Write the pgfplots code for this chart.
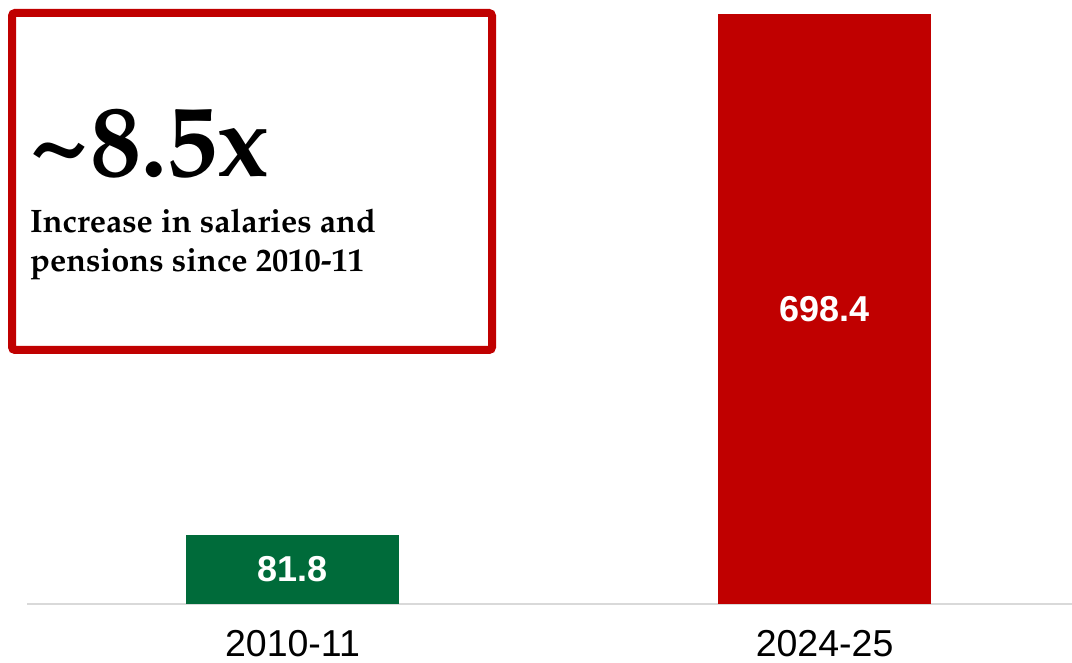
\documentclass[border=0pt]{standalone}
\usepackage[T1]{fontenc}
\usepackage{fontspec}
\setmainfont{Liberation Sans}
\usepackage{pgfplots}
\pgfplotsset{compat=1.18}
\definecolor{barred}{HTML}{C00000}
\definecolor{bargreen}{HTML}{006B3A}
\definecolor{baseline}{HTML}{D9D9D9}
\newcommand\pal{\fontencoding{T1}\fontfamily{ppl}\selectfont}
\begin{document}
\begin{tikzpicture}
\useasboundingbox (0,0) rectangle (1072bp,663bp);
\begin{axis}[
    at={(27bp,59bp)}, anchor=south west,
    width=1045bp, height=590bp, scale only axis,
    xmin=-0.499, xmax=1.465, ymin=0, ymax=698.4,
    hide y axis,
    axis x line*=bottom,
    x axis line style={draw=baseline, line width=1.6bp, -},
    xtick={0,1}, xticklabels={2010-11,2024-25},
    major tick length=0pt, xtick style={draw=none},
    xticklabel style={font=\fontsize{37.5bp}{40bp}\selectfont, anchor=base, inner sep=0pt, yshift=-52bp},
    ybar, bar width=0.4, bar shift=0pt,
    point meta=explicit symbolic,
    visualization depends on={y \as \rawy},
    nodes near coords,
    every node near coord/.append style={anchor=center, white,
        font=\bfseries\fontsize{36bp}{40bp}\selectfont,
        shift={(axis direction cs:0,-\rawy/2)}},
    clip=false,
]
\addplot[fill=bargreen, draw=none] coordinates {(0,81.8) [81.8]};
\addplot[fill=barred, draw=none] coordinates {(1,698.4) [698.4]};
\end{axis}
\draw[barred, line width=8bp, rounded corners=3bp] (12bp,313bp) rectangle (492bp,650bp);
\node[anchor=base west, inner sep=0pt] at (28bp,486bp)
    {\pal\bfseries\fontsize{102bp}{110bp}\selectfont\textasciitilde8.5x};
\node[anchor=base west, inner sep=0pt] at (30bp,430bp)
    {\pal\bfseries\fontsize{32.5bp}{36bp}\selectfont Increase in salaries and};
\node[anchor=base west, inner sep=0pt] at (30bp,391bp)
    {\pal\bfseries\fontsize{32.5bp}{36bp}\selectfont pensions since 2010-11};
\end{tikzpicture}
\end{document}
